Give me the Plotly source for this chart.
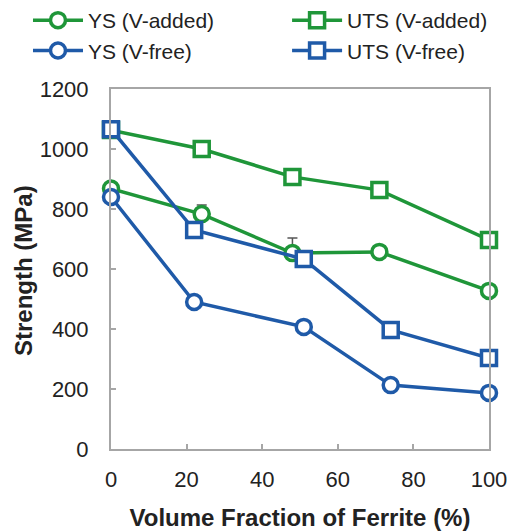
import plotly.graph_objects as go

# Data
x_v_added = [0, 24, 48, 71, 100]
ys_v_added = [868, 783, 653, 657, 527]
ys_v_added_err = [0, 30, 50, 0, 0]
uts_v_added = [1063, 1000, 907, 863, 697]

x_v_free = [0, 22, 51, 74, 100]
ys_v_free = [840, 490, 407, 213, 187]
uts_v_free = [1066, 730, 633, 397, 303]

x_ticks = [0, 20, 40, 60, 80, 100]
y_ticks = [0, 200, 400, 600, 800, 1000, 1200]

GREEN = "#1f9639"
BLUE = "#1f5aa8"
FONT = "Liberation Sans, Arial, sans-serif"
TXT = "#222222"

fig = go.Figure()

def add(name, x, y, color, symbol, legend, err=None):
    kw = {}
    if err is not None:
        kw["error_y"] = dict(type="data", array=err, arrayminus=[0] * len(err),
                             symmetric=False, color="#555555", thickness=1.5, width=5)
    fig.add_trace(go.Scatter(
        x=x, y=y, name=name, mode="lines+markers", legend=legend,
        line=dict(color=color, width=3.5),
        marker=dict(symbol=symbol, size=15, color="white",
                    line=dict(color=color, width=3.5)),
        cliponaxis=False, **kw))

add("YS (V-added)", x_v_added, ys_v_added, GREEN, "circle", "legend", ys_v_added_err)
add("UTS (V-added)", x_v_added, uts_v_added, GREEN, "square", "legend2")
add("YS (V-free)", x_v_free, ys_v_free, BLUE, "circle", "legend")
add("UTS (V-free)", x_v_free, uts_v_free, BLUE, "square", "legend2")

axis_common = dict(showline=True, linecolor="#a6a6a6", linewidth=2, mirror=True,
                   ticks="inside", ticklen=5, tickcolor="#a6a6a6", tickwidth=2,
                   showgrid=False, zeroline=False,
                   tickfont=dict(family=FONT, size=22, color=TXT))

legend_common = dict(orientation="v", xref="container", yref="container",
                     y=1.012, xanchor="left", yanchor="top", itemwidth=50,
                     font=dict(family=FONT, size=21, color=TXT),
                     bgcolor="rgba(0,0,0,0)", traceorder="normal")

fig.update_layout(
    width=509, height=531,
    margin=dict(l=111, r=20, t=89, b=82, autoexpand=False),
    paper_bgcolor="white", plot_bgcolor="white",
    font=dict(family=FONT, size=22, color=TXT),
    xaxis=dict(range=[0, 100], tickvals=x_ticks, ticklabelstandoff=10,
               title=dict(text="<b>Volume Fraction of Ferrite (%)</b>",
                          font=dict(family=FONT, size=24, color=TXT), standoff=20),
               **axis_common),
    yaxis=dict(range=[0, 1200], tickvals=y_ticks, ticklabelstandoff=16,
               **axis_common),
    legend=dict(x=0.055, **legend_common),
    legend2=dict(x=0.564, **legend_common),
    showlegend=True,
    annotations=[dict(text="<b>Strength (MPa)</b>", textangle=-90,
                      xref="paper", yref="paper", x=-0.233, y=0.497,
                      xanchor="center", yanchor="middle", showarrow=False,
                      font=dict(family=FONT, size=24, color=TXT))],
)

fig.write_html("out.html")
